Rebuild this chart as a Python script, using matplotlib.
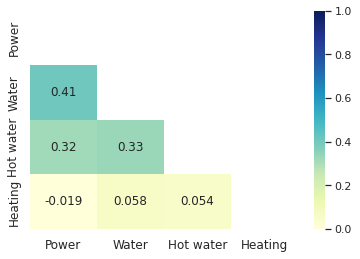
import numpy as np
import pandas as pd
import matplotlib
matplotlib.use("Agg")
import matplotlib.pyplot as plt
import seaborn as sns

labels = ["Power", "Water", "Hot water", "Heating"]
power_col = [1.0, 0.41, 0.32, -0.019]
water_col = [0.41, 1.0, 0.33, 0.058]
hot_water_col = [0.32, 0.33, 1.0, 0.054]
heating_col = [-0.019, 0.058, 0.054, 1.0]

corr = pd.DataFrame(
    np.column_stack([power_col, water_col, hot_water_col, heating_col]),
    index=labels, columns=labels,
)
# hide the upper triangle and the diagonal
mask = np.triu(np.ones_like(corr, dtype=bool))

sns.set_theme(style="white")

fig = plt.figure(figsize=(5.0, 3.6), dpi=72)
ax = fig.add_axes([30 / 360, 30 / 259, 268 / 360, 218 / 259])
cax = fig.add_axes([314 / 360, 30 / 259, 11 / 360, 218 / 259])

sns.heatmap(corr, mask=mask, cmap="YlGnBu", vmin=0, vmax=1, annot=True,
            annot_kws={"fontsize": 12}, ax=ax, cbar_ax=cax)

ax.tick_params(axis="both", labelsize=12)
cax.tick_params(labelsize=11)

fig.savefig("out.png", dpi=72)
